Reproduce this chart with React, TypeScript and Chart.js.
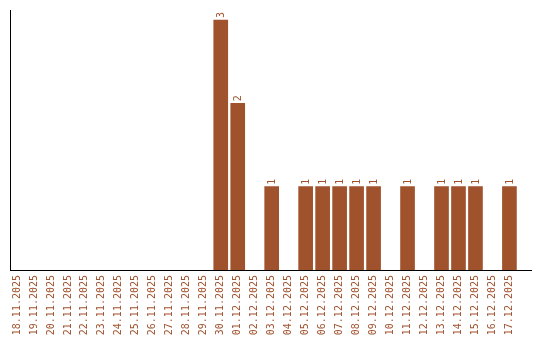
import React, { useEffect, useRef } from "react";
import { Chart, registerables } from "chart.js";

Chart.register(...registerables);

const dateLabels: string[] = [
  "18.11.2025", "19.11.2025", "20.11.2025", "21.11.2025", "22.11.2025",
  "23.11.2025", "24.11.2025", "25.11.2025", "26.11.2025", "27.11.2025",
  "28.11.2025", "29.11.2025", "30.11.2025", "01.12.2025", "02.12.2025",
  "03.12.2025", "04.12.2025", "05.12.2025", "06.12.2025", "07.12.2025",
  "08.12.2025", "09.12.2025", "10.12.2025", "11.12.2025", "12.12.2025",
  "13.12.2025", "14.12.2025", "15.12.2025", "16.12.2025", "17.12.2025",
];

const counts: number[] = [
  0, 0, 0, 0, 0, 0, 0, 0, 0, 0, 0, 0, 3, 2, 0,
  1, 0, 1, 1, 1, 1, 1, 0, 1, 0, 1, 1, 1, 0, 1,
];

const BAR_COLOR = "#a0522d";
const TEXT_COLOR = "#a0522d";
const FONT = "'DejaVu Sans Mono', monospace";

const valueLabelPlugin = {
  id: "valueLabels",
  afterDatasetsDraw(chart: any) {
    const ctx = chart.ctx;
    const meta = chart.getDatasetMeta(0);
    ctx.save();
    ctx.fillStyle = TEXT_COLOR;
    ctx.font = `10px ${FONT}`;
    meta.data.forEach((el: any, i: number) => {
      const v = counts[i];
      if (!v) return;
      ctx.save();
      ctx.translate(el.x + 3.5, el.y - 2);
      ctx.rotate(-Math.PI / 2);
      ctx.textAlign = "left";
      ctx.textBaseline = "alphabetic";
      ctx.fillText(String(v), 0, 0);
      ctx.restore();
    });
    ctx.restore();
  },
};

export default function App() {
  const ref = useRef<HTMLCanvasElement | null>(null);
  useEffect(() => {
    if (!ref.current) return;
    const chart = new Chart(ref.current, {
      type: "bar",
      data: {
        datasets: [
          {
            data: counts.map((v, i) => ({ x: i, y: v ? v : null })),
            backgroundColor: BAR_COLOR,
            borderWidth: 0,
            barThickness: 14,
          },
        ],
      },
      options: {
        responsive: false,
        animation: false,
        events: [],
        layout: { padding: { left: 10, top: 10, right: 9, bottom: 0 } },
        plugins: { legend: { display: false }, tooltip: { enabled: false } },
        scales: {
          x: {
            type: "linear",
            offset: false,
            min: -0.41,
            max: 30.27,
            grid: { display: false, drawTicks: false, offset: false },
            border: { display: true, color: "#000", width: 1 },
            afterBuildTicks: (scale: any) => {
              scale.ticks = dateLabels.map((_, i) => ({ value: i }));
            },
            afterFit: (scale: any) => {
              scale.height = 70;
              scale.paddingLeft = 0;
              scale.paddingRight = 0;
            },
            ticks: {
              autoSkip: false,
              minRotation: 90,
              maxRotation: 90,
              padding: 5,
              color: TEXT_COLOR,
              font: { family: FONT, size: 10 },
              callback: (value: any) => dateLabels[Math.round(Number(value))] ?? "",
            },
          },
          y: {
            min: 0,
            max: 3.12,
            grid: { display: false, drawTicks: false },
            border: { display: true, color: "#000", width: 1 },
            ticks: { display: false },
            afterFit: (scale: any) => {
              scale.width = 0;
            },
          },
        },
      },
      plugins: [valueLabelPlugin],
    });
    return () => chart.destroy();
  }, []);
  return (
    <div style={{ position: "absolute", left: 0, top: 0, width: 540, height: 340, background: "#fff" }}>
      <canvas ref={ref} width={540} height={340} />
    </div>
  );
}
